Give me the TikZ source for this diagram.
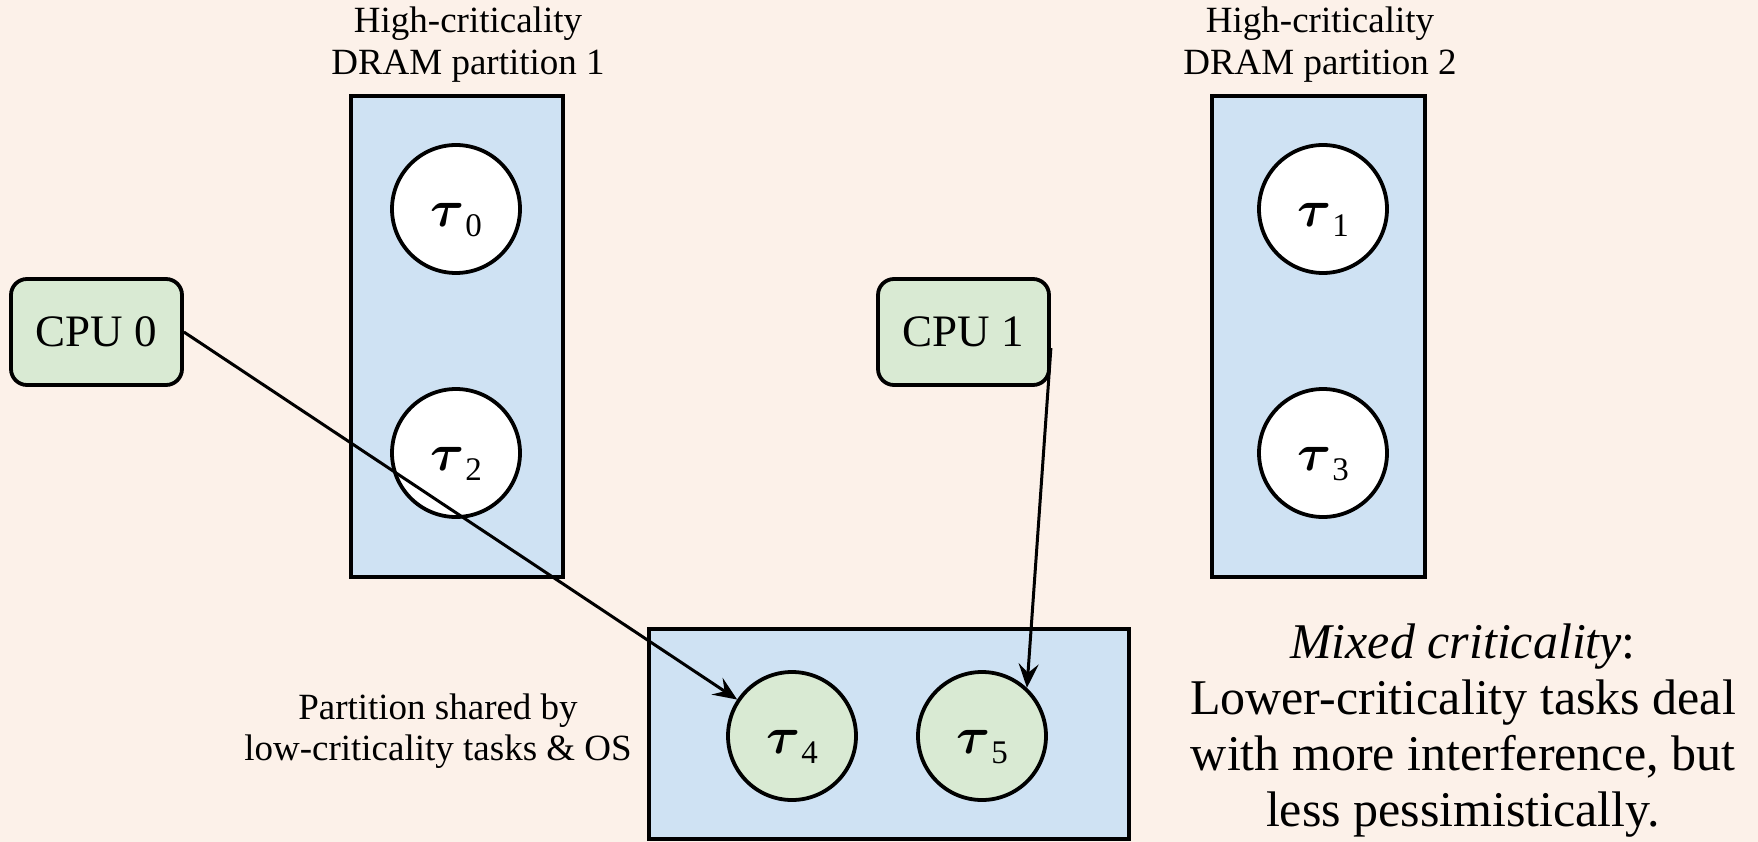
\documentclass[tikz,border=0pt]{standalone}
\usepackage{fontspec}
\usepackage{bm}
\usepackage{graphicx}
\setmainfont{Liberation Serif}
\usetikzlibrary{arrows.meta}
\definecolor{bg}{HTML}{FCF1E9}
\definecolor{partblue}{HTML}{CFE2F3}
\definecolor{taskgreen}{HTML}{D9EAD3}
\newcommand{\tasklabel}[1]{\scalebox{5.2}{$\bm{\tau}$}\kern1pt\raisebox{-10pt}{\fontsize{33}{33}\selectfont #1}}
\tikzset{
  part/.style={draw=black, line width=3.8pt, fill=partblue, inner sep=0pt},
  task/.style={circle, draw=black, line width=3.8pt, minimum size=128pt, inner sep=0pt, font=\normalsize, text height=35pt, text depth=0pt},
  hightask/.style={task, fill=white},
  lowtask/.style={task, fill=taskgreen},
  cpu/.style={draw=black, line width=3.8pt, fill=taskgreen, rounded corners=16pt, minimum width=171pt, minimum height=106pt, inner sep=0pt, font=\fontsize{45}{50}\selectfont},
  title/.style={align=center, font=\fontsize{37}{42}\selectfont},
  conn/.style={line width=3pt, -{Stealth[length=24pt,width=20pt,inset=9pt]}}
}
\begin{document}
\begin{tikzpicture}[x=1pt,y=-1pt]
\fill[bg] (0,0) rectangle (1758,842);
\useasboundingbox (0,0) rectangle (1758,842);
% partitions
\node[part, minimum width=212pt, minimum height=481pt] (p1) at (457,336.5) {};
\node[part, minimum width=213pt, minimum height=481pt] (p2) at (1318.5,336.5) {};
\node[part, minimum width=480pt, minimum height=210pt] (ps) at (889,734) {};
% titles
\node[title] (l1) at (468,45) {High-criticality\\DRAM partition 1};
\node[title] (l2) at (1320,45) {High-criticality\\DRAM partition 2};
\node[align=center, font=\fontsize{37}{41}\selectfont] (ls) at (438,731) {Partition shared by\\low-criticality tasks \& OS};
\node[align=center, font=\fontsize{50}{56}\selectfont] (mc) at (1463,731) {\textit{Mixed criticality}:\\Lower-criticality tasks deal\\with more interference, but\\less pessimistically.};
% tasks
\node[hightask] (t0) at (456,209) {\tasklabel{0}};
\node[hightask] (t2) at (456,453) {\tasklabel{2}};
\node[hightask] (t1) at (1323,209) {\tasklabel{1}};
\node[hightask] (t3) at (1323,453) {\tasklabel{3}};
\node[lowtask] (t4) at (792,736) {\tasklabel{4}};
\node[lowtask] (t5) at (982,736) {\tasklabel{5}};
% cpus
\node[cpu] (c0) at (96.5,332) {CPU 0};
\node[cpu] (c1) at (963.5,332) {CPU 1};
% connectors
\draw[conn] (c0.east) -- (t4);
\draw[conn] ([yshift=-16pt]c1.east) -- (t5.47);
\end{tikzpicture}
\end{document}
